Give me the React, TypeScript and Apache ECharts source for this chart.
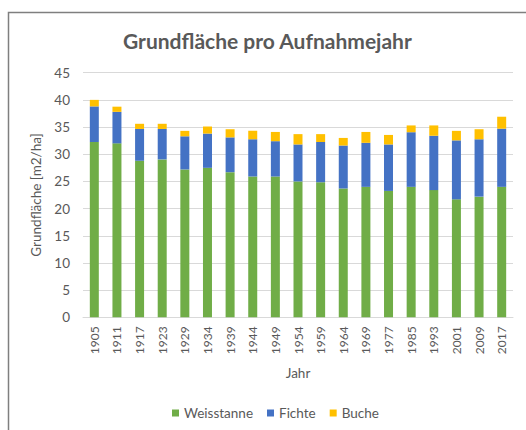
import React, { useEffect, useRef } from "react";
import * as echarts from "echarts";

const years = ["1905","1911","1917","1923","1929","1934","1939","1944","1949","1954","1959","1964","1969","1977","1985","1993","2001","2009","2017"];
const weisstanne = [32.25,32.0,28.8,29.05,27.2,27.5,26.7,25.9,25.9,25.0,24.85,23.7,24.0,23.25,24.0,23.4,21.7,22.2,24.0];
const fichte = [6.55,5.8,5.85,5.6,6.1,6.3,6.4,6.85,6.5,6.8,7.4,7.9,8.1,8.55,10.05,10.0,10.85,10.55,10.7];
const buche = [1.2,0.95,0.95,0.95,1.0,1.3,1.5,1.55,1.7,1.9,1.45,1.4,2.0,1.75,1.25,1.9,1.75,1.85,2.2];

const FONT = "Lato, 'Open Sans', sans-serif";
const GRAY = "#595959";

export default function App() {
  const ref = useRef<HTMLDivElement>(null);
  useEffect(() => {
    const chart = echarts.init(ref.current!, undefined, { renderer: "svg" });
    const mk = (name: string, data: number[], color: string) => ({
      name, type: "bar", stack: "s", data, barWidth: 9,
      itemStyle: { color }, emphasis: { disabled: true },
    });
    chart.setOption({
      animation: false,
      textStyle: { fontFamily: FONT },
      title: {
        text: "Grundfläche pro Aufnahmejahr",
        left: 118, top: 25,
        textStyle: { fontFamily: FONT, fontSize: 21, fontWeight: "bold", color: GRAY },
      },
      graphic: [{
        type: "polyline",
        shape: { points: [[8.5, 440], [8.5, 12.5], [540, 12.5]] },
        style: { stroke: "#7f7f7f", lineWidth: 1.5, fill: "none" },
        silent: true,
      }],
      legend: {
        bottom: 5, left: 167,
        itemWidth: 7, itemHeight: 7, itemGap: 14,
        icon: "rect",
        textStyle: { fontFamily: FONT, fontSize: 13.5, color: GRAY },
        data: ["Weisstanne", "Fichte", "Buche"],
      },
      grid: { left: 83, right: 13, top: 72.7, bottom: 112.7 },
      xAxis: {
        type: "category", data: years,
        name: "Jahr", nameLocation: "middle", nameGap: 49,
        nameTextStyle: { fontFamily: FONT, fontSize: 13.5, color: GRAY },
        axisLine: { lineStyle: { color: "#d9d9d9" } },
        axisTick: { show: false },
        axisLabel: { rotate: 90, fontSize: 12, color: GRAY, fontFamily: FONT, margin: 9 },
      },
      yAxis: {
        type: "value", min: 0, max: 45, interval: 5,
        name: "Grundfläche [m2/ha]", nameLocation: "middle", nameGap: 34,
        nameTextStyle: { fontFamily: FONT, fontSize: 13.5, color: GRAY },
        axisLabel: { fontSize: 13.5, color: GRAY, fontFamily: FONT, margin: 13 },
        splitLine: { lineStyle: { color: "#d9d9d9" } },
      },
      series: [
        mk("Weisstanne", weisstanne, "#70ad47"),
        mk("Fichte", fichte, "#4472c4"),
        mk("Buche", buche, "#ffc000"),
      ],
    });
    return () => chart.dispose();
  }, []);
  return <div ref={ref} style={{ width: 526, height: 430, position: "absolute", left: 0, top: 0 }} />;
}
